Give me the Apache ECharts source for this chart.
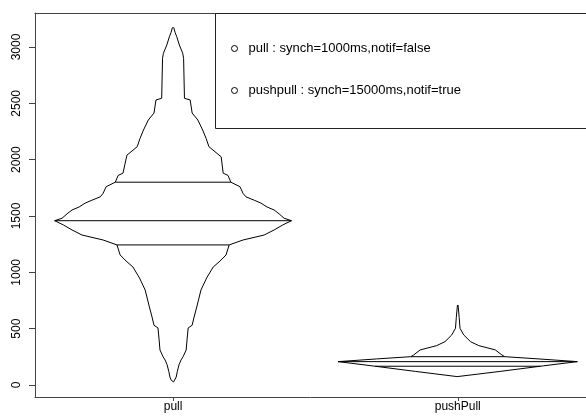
<!DOCTYPE html>
<html>
<head>
<meta charset="utf-8">
<script src="https://cdn.jsdelivr.net/npm/echarts@6/dist/echarts.min.js"></script>
<style>html,body{margin:0;padding:0;background:#fff}#c{width:586px;height:416px}</style>
</head>
<body>
<div id="c"></div>
<script>
// ---- data ----
var categories = ['pull', 'pushPull'];
var seriesNames = ['pull : synch=1000ms,notif=false', 'pushpull : synch=15000ms,notif=true'];
var yTicks = [0, 500, 1000, 1500, 2000, 2500, 3000];

// bean outline: values (top -> bottom) and density half-widths (x-axis units)
var pullValues = [3175, 3130, 3091, 3018, 2944, 2900, 2545, 2530, 2414, 2352, 2263, 2189, 2115, 2040, 2025, 1880, 1860, 1800, 1760, 1700, 1670, 1640, 1614, 1580, 1553, 1520, 1480, 1458, 1420, 1376, 1331, 1287, 1243, 1154, 1100, 1047, 950, 843, 700, 604, 530, 506, 400, 310, 250, 222, 180, 120, 70, 40, 27];
var pullDensity = [0.002, 0.007, 0.013, 0.022, 0.034, 0.037, 0.040, 0.060, 0.067, 0.087, 0.104, 0.116, 0.126, 0.162, 0.169, 0.176, 0.193, 0.203, 0.235, 0.246, 0.256, 0.285, 0.309, 0.330, 0.355, 0.372, 0.390, 0.416, 0.385, 0.355, 0.320, 0.246, 0.197, 0.186, 0.165, 0.141, 0.118, 0.098, 0.084, 0.074, 0.067, 0.053, 0.049, 0.046, 0.035, 0.028, 0.021, 0.015, 0.011, 0.006, 0.002];
var pullQuantiles = [1243, 1458, 1800];

var pushPullValues = [710, 600, 503, 444, 384, 349, 311, 266, 251, 231, 207, 170, 120, 74];
var pushPullDensity = [0.001, 0.005, 0.008, 0.021, 0.045, 0.074, 0.132, 0.155, 0.165, 0.285, 0.420, 0.302, 0.148, 0.002];
var pushPullQuantiles = [166, 207, 251];

// ---- build ----
function outline(center, vals, dens) {
  var left = [], right = [];
  for (var i = 0; i < vals.length; i++) {
    left.push([center - dens[i], vals[i]]);
    right.unshift([center + dens[i], vals[i]]);
  }
  return left.concat(right);
}
function widthAt(v, vals, dens) {
  for (var i = 0; i < vals.length - 1; i++) {
    var a = vals[i], b = vals[i + 1];
    if (v <= a && v >= b) {
      var t = (a === b) ? 0 : (a - v) / (a - b);
      return dens[i] + t * (dens[i + 1] - dens[i]);
    }
  }
  return 0;
}
var beans = [
  {c: 1, vals: pullValues, dens: pullDensity, q: pullQuantiles, name: seriesNames[0]},
  {c: 2, vals: pushPullValues, dens: pushPullDensity, q: pushPullQuantiles, name: seriesNames[1]}
];
var series = [];
beans.forEach(function (b) {
  series.push({
    type: 'line', name: b.name, data: outline(b.c, b.vals, b.dens),
    showSymbol: false, symbol: 'none', silent: true, animation: false,
    lineStyle: {color: '#000', width: 1}, itemStyle: {color: '#000'}
  });
  b.q.forEach(function (qv) {
    var w = widthAt(qv, b.vals, b.dens);
    series.push({
      type: 'line', data: [[b.c - w, qv], [b.c + w, qv]],
      showSymbol: false, symbol: 'none', silent: true, animation: false,
      lineStyle: {color: '#000', width: 1}
    });
  });
});

var axisFont = 'Liberation Sans, Arial, sans-serif';
var chart = echarts.init(document.getElementById('c'), null, {renderer: 'canvas'});
chart.setOption({
  backgroundColor: '#fff',
  animation: false,
  grid: {left: 35, top: 13, right: 0, bottom: 19, show: false},
  xAxis: [{
    type: 'value', min: 0.515, max: 2.4505,
    splitLine: {show: false},
    axisLine: {show: true, onZero: false, lineStyle: {color: '#444'}},
    axisTick: {show: true, customValues: [1, 2], length: 4, lineStyle: {color: '#444'}},
    axisLabel: {customValues: [1, 2], margin: 4, color: '#000', fontSize: 12, fontFamily: axisFont,
      formatter: function (v) { return categories[Math.round(v) - 1]; }}
  }, {
    type: 'value', position: 'top', min: 0.515, max: 2.4505,
    splitLine: {show: false}, axisTick: {show: false}, axisLabel: {show: false},
    axisLine: {show: true, onZero: false, lineStyle: {color: '#444'}}
  }],
  yAxis: {
    type: 'value', min: -107, max: 3302,
    splitLine: {show: false},
    axisLine: {show: true, onZero: false, lineStyle: {color: '#444'}},
    axisTick: {show: true, customValues: yTicks, length: 6, lineStyle: {color: '#444'}},
    axisLabel: {customValues: yTicks, rotate: 90, margin: 12, color: '#000', fontSize: 12, fontFamily: axisFont,
      formatter: function (v) { return String(v); }}
  },
  legend: {
    orient: 'vertical', left: 226, top: 37, itemGap: 29,
    icon: 'circle', itemWidth: 6, itemHeight: 6,
    itemStyle: {color: '#fff', borderColor: '#000', borderWidth: 1},
    textStyle: {color: '#000', fontSize: 13, fontFamily: axisFont, padding: [0, 0, 0, 6]},
    data: seriesNames, selectedMode: false
  },
  graphic: [{
    type: 'rect', z: 100, silent: true,
    shape: {x: 215.5, y: 13.5, width: 400, height: 115},
    style: {fill: 'none', stroke: '#222', lineWidth: 1}
  }],
  series: series
});
</script>
</body>
</html>
